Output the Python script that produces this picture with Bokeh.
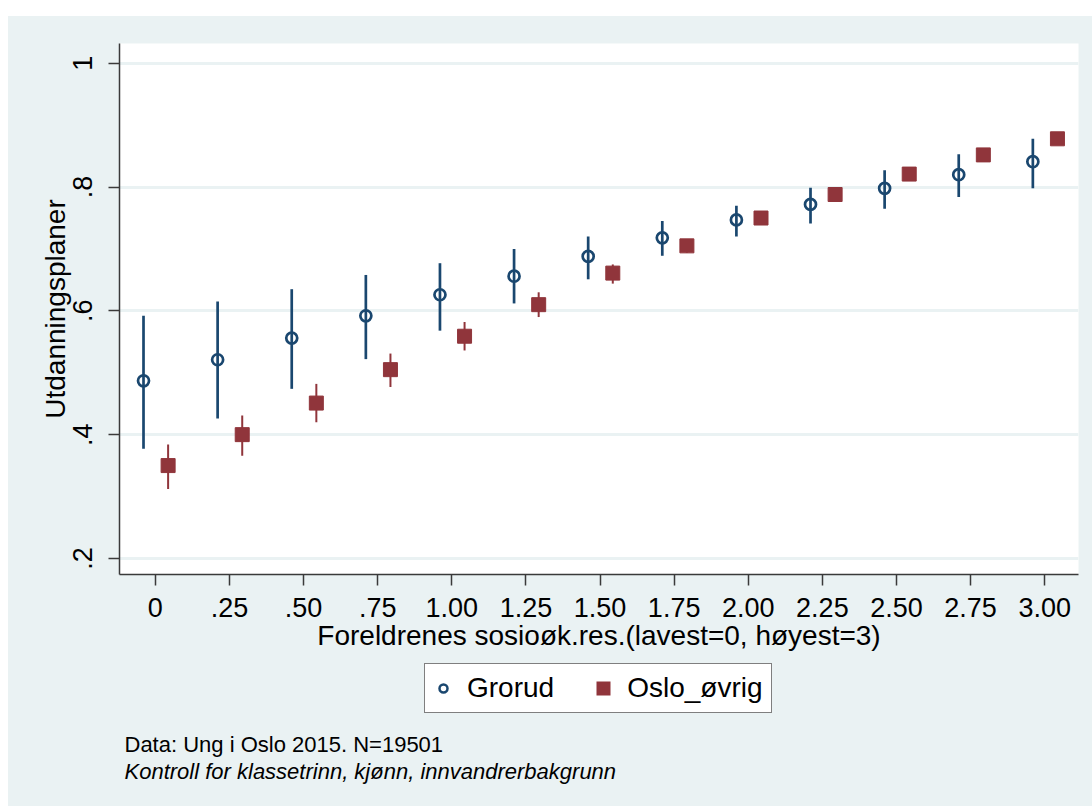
from bokeh.plotting import figure
from bokeh.layouts import column
from bokeh.models import (ColumnDataSource, Range1d, FixedTicker, Legend, LegendItem, Label)
from bokeh.transform import dodge
from bokeh.embed import file_html
from bokeh.resources import INLINE

# ---- data ----
x_vals = [0, 0.25, 0.5, 0.75, 1.0, 1.25, 1.5, 1.75, 2.0, 2.25, 2.5, 2.75, 3.0]
x_tick_labels = ["0", ".25", ".50", ".75", "1.00", "1.25", "1.50", "1.75", "2.00", "2.25", "2.50", "2.75", "3.00"]
y_ticks = [0.2, 0.4, 0.6, 0.8, 1.0]
y_tick_labels = [".2", ".4", ".6", ".8", "1"]

grorud_mean = [0.487, 0.521, 0.556, 0.592, 0.626, 0.656, 0.688, 0.718, 0.747, 0.772, 0.798, 0.820, 0.841]
grorud_lo   = [0.377, 0.426, 0.474, 0.522, 0.568, 0.612, 0.651, 0.689, 0.720, 0.741, 0.765, 0.784, 0.798]
grorud_hi   = [0.592, 0.615, 0.635, 0.658, 0.677, 0.700, 0.720, 0.745, 0.770, 0.799, 0.827, 0.853, 0.878]

oslo_mean = [0.350, 0.400, 0.451, 0.505, 0.559, 0.610, 0.661, 0.705, 0.750, 0.788, 0.821, 0.852, 0.878]
oslo_lo   = [0.312, 0.366, 0.420, 0.477, 0.536, 0.590, 0.644, 0.694, 0.741, 0.780, 0.814, 0.846, 0.872]
oslo_hi   = [0.384, 0.431, 0.482, 0.531, 0.582, 0.630, 0.675, 0.716, 0.759, 0.796, 0.828, 0.858, 0.884]

series_names = ["Grorud", "Oslo_øvrig"]
x_title = "Foreldrenes sosioøk.res.(lavest=0, høyest=3)"
y_title = "Utdanningsplaner"
note1 = "Data: Ung i Oslo 2015. N=19501"
note2 = "Kontroll for klassetrinn, kjønn, innvandrerbakgrunn"

# ---- style ----
NAVY = "#1a476f"
MAROON = "#90353b"
BG = "#eaf2f3"
AXIS = "#3a3a3a"
FONT = "Liberation Sans"

src_g = ColumnDataSource(dict(x=x_vals, m=grorud_mean, lo=grorud_lo, hi=grorud_hi))
src_o = ColumnDataSource(dict(x=x_vals, m=oslo_mean, lo=oslo_lo, hi=oslo_hi))

# ---------- main chart ----------
p = figure(width=1084, height=646, output_backend="svg", toolbar_location=None,
           x_range=Range1d(-0.121, 3.114), y_range=Range1d(0.174, 1.032))
p.min_border_left = 111
p.min_border_right = 14
p.min_border_top = 27
p.min_border_bottom = 88
p.background_fill_color = "white"
p.border_fill_color = BG
p.outline_line_color = None

p.xaxis.ticker = FixedTicker(ticks=x_vals)
p.xaxis.major_label_overrides = {x: l for x, l in zip(x_vals, x_tick_labels)}
p.yaxis.ticker = FixedTicker(ticks=y_ticks)
p.yaxis.major_label_overrides = {y: l for y, l in zip(y_ticks, y_tick_labels)}
p.yaxis.major_label_orientation = "vertical"
for ax in (p.xaxis[0], p.yaxis[0]):
    ax.axis_line_color = AXIS
    ax.axis_line_width = 1.5
    ax.major_tick_line_color = AXIS
    ax.major_tick_line_width = 1.5
    ax.major_tick_out = 11
    ax.major_tick_in = 0
    ax.minor_tick_line_color = None
    ax.major_label_text_font = FONT
    ax.major_label_text_font_size = "27px"
    ax.major_label_text_color = "black"
    ax.axis_label_text_font = FONT
    ax.axis_label_text_font_style = "normal"
    ax.axis_label_text_color = "black"
p.xaxis.major_label_standoff = 12
p.yaxis.major_label_standoff = 16
p.xaxis.axis_label = x_title
p.xaxis.axis_label_text_font_size = "28px"
p.xaxis.axis_label_standoff = 0
p.yaxis.axis_label = y_title
p.yaxis.axis_label_text_font_size = "28px"
p.yaxis.axis_label_standoff = 0

p.xgrid.grid_line_color = None
p.ygrid.ticker = FixedTicker(ticks=y_ticks)
p.ygrid.grid_line_color = BG
p.ygrid.grid_line_width = 3

p.segment(x0=dodge("x", -0.04, range=p.x_range), y0="lo", x1=dodge("x", -0.04, range=p.x_range), y1="hi",
          source=src_g, line_color=NAVY, line_width=2.7)
p.segment(x0=dodge("x", 0.043, range=p.x_range), y0="lo", x1=dodge("x", 0.043, range=p.x_range), y1="hi",
          source=src_o, line_color=MAROON, line_width=2)
p.scatter(x=dodge("x", -0.04, range=p.x_range), y="m", source=src_g, marker="circle", size=11,
          fill_color=None, line_color=NAVY, line_width=2.7)
p.scatter(x=dodge("x", 0.043, range=p.x_range), y="m", source=src_o, marker="square", size=14,
          fill_color=MAROON, line_color=MAROON, line_width=1)

# ---------- footer: legend and notes (frame is aligned with the chart frame) ----------
FH = 144
FW = 959
q = figure(width=1084, height=FH, output_backend="svg", toolbar_location=None,
           x_range=Range1d(0, FW), y_range=Range1d(0, FH))
q.min_border_left = 111
q.min_border_right = 14
q.min_border_top = 0
q.min_border_bottom = 0
q.axis.visible = False
q.grid.visible = False
q.background_fill_alpha = 0
q.border_fill_alpha = 0
q.outline_line_color = None

hidden = dict(x=[-1000], y=[-1000])
lg_g = q.scatter(x="x", y="y", source=ColumnDataSource(hidden), marker="circle",
                 fill_color=None, line_color=NAVY, line_width=2.5)
lg_o = q.scatter(x="x", y="y", source=ColumnDataSource(hidden), marker="square",
                 fill_color=MAROON, line_color=MAROON, line_width=6, line_join="miter")
legend = Legend(items=[LegendItem(label=series_names[0], renderers=[lg_g]),
                       LegendItem(label=series_names[1], renderers=[lg_o])],
                location=(305, 93), orientation="horizontal")
legend.label_text_font = FONT
legend.label_text_font_size = "28px"
legend.label_text_color = "black"
legend.border_line_color = "black"
legend.border_line_width = 1
legend.background_fill_color = "white"
legend.background_fill_alpha = 1
legend.padding = 8
legend.spacing = 39
legend.label_standoff = 14
legend.glyph_width = 20
legend.glyph_height = 20
legend.margin = 0
q.add_layout(legend, "center")

q.add_layout(Label(x=5, y=62, text=note1, text_align="left", text_baseline="alphabetic",
                   text_font=FONT, text_font_size="22px", text_color="black"))
q.add_layout(Label(x=5, y=35, text=note2, text_align="left", text_baseline="alphabetic",
                   text_font=FONT, text_font_size="22px", text_font_style="italic",
                   text_color="black"))

layout = column(p, q, spacing=0)
layout.margin = (16, 0, 0, 8)
layout.styles = {"background-color": BG}

open("out.html", "w").write(file_html(layout, INLINE))
